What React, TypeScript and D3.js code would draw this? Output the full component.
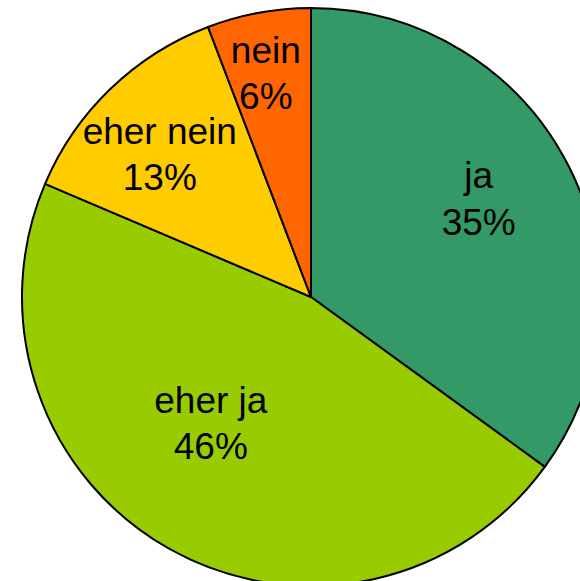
import React from "react";
import * as d3 from "d3";

const categories = ["ja", "eher ja", "eher nein", "nein"];
const values = [35.0, 46.4, 12.8, 5.8];
const percentLabels = ["35%", "46%", "13%", "6%"];
const colors = ["#339966", "#99CC00", "#FFCC00", "#FF6600"];

const W = 580;
const H = 581;
const cx = 311;
const cy = 297;
const R = 289;

// label nudges from each slice's centroid (layout only)
const labelNudge: [number, number][] = [
  [39, -43],
  [-29, -10],
  [-51, -49],
  [-19, -92],
];

export default function App() {
  const pie = d3.pie<number>().sort(null).value((d) => d);
  const arcs = pie(values);
  const arcGen = d3.arc<d3.PieArcDatum<number>>().innerRadius(0).outerRadius(R);
  return (
    <svg width={W} height={H} style={{ position: "absolute", left: 0, top: 0 }}>
      <g transform={`translate(${cx},${cy})`}>
        {arcs.map((a, i) => (
          <path key={i} d={arcGen(a) || ""} fill={colors[i]} stroke="#000" strokeWidth={2} strokeLinejoin="round" />
        ))}
        {arcs.map((a, i) => {
          const [c0, c1] = arcGen.centroid(a);
          const x = c0 + labelNudge[i][0];
          const y = c1 + labelNudge[i][1];
          return (
            <text
              key={"t" + i}
              textAnchor="middle"
              fontFamily="Liberation Sans, Arial, sans-serif"
              fontSize={37}
              fill="#000"
            >
              <tspan x={x} y={y}>{categories[i]}</tspan>
              <tspan x={x} y={y + 46.5}>{percentLabels[i]}</tspan>
            </text>
          );
        })}
      </g>
    </svg>
  );
}
